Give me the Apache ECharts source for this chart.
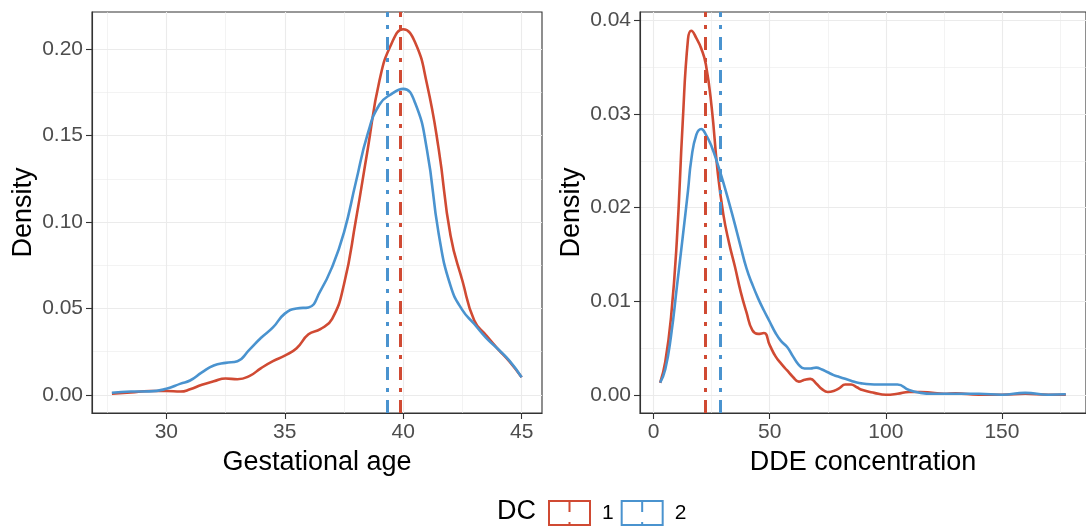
<!DOCTYPE html>
<html><head><meta charset="utf-8">
<script src="https://cdn.jsdelivr.net/npm/echarts@6/dist/echarts.min.js"></script>
<style>html,body{margin:0;padding:0;background:#fff}#c{width:1086px;height:530px}</style>
</head><body><div id="c"></div>
<script>
// ---------- data ----------
const groupNames = ['1', '2'];
const groupColors = ['#D04A33', '#4A93CF'];

const gaX = [27.7, 28.5, 29.3, 30, 30.6, 31, 31.5, 32, 32.5, 33, 33.5, 34, 34.5, 35, 35.5, 36, 36.5, 37, 37.5, 38, 38.5, 39, 39.5, 40, 40.5, 41, 41.5, 42, 42.5, 43, 43.5, 44, 44.5, 45];
const gaDens1 = [0.0006, 0.0014, 0.0022, 0.0022, 0.0019, 0.0032, 0.0058, 0.0078, 0.0095, 0.009, 0.0108, 0.0155, 0.0195, 0.0227, 0.027, 0.035, 0.038, 0.044, 0.064, 0.101, 0.142, 0.182, 0.203, 0.2115, 0.204, 0.180, 0.142, 0.092, 0.066, 0.043, 0.0345, 0.0265, 0.019, 0.0102];
const gaDens2 = [0.0012, 0.0019, 0.002, 0.0035, 0.0065, 0.0083, 0.013, 0.017, 0.0185, 0.0195, 0.026, 0.033, 0.039, 0.047, 0.050, 0.0506, 0.060, 0.074, 0.094, 0.123, 0.151, 0.168, 0.174, 0.177, 0.169, 0.142, 0.093, 0.063, 0.049, 0.041, 0.033, 0.0265, 0.0195, 0.0102];

const ddeX = [2.8, 5, 7.5, 10, 12.5, 14.8, 16.2, 18.4, 20.5, 22.5, 25, 27.5, 30, 32.5, 35, 37.5, 40, 42.5, 45, 47.5, 50, 52.5, 55, 57.5, 60, 62.5, 65, 67.5, 70, 72.5, 75, 77.5, 80, 82.5, 85, 87.5, 90, 95, 100, 105, 110, 115, 120, 125, 130, 140, 150, 160, 170, 177.5];
const ddeDens1 = [0.00127, 0.0035, 0.0083, 0.0165, 0.029, 0.0380, 0.0389, 0.0381, 0.0370, 0.0353, 0.0307, 0.024, 0.0193, 0.0162, 0.0137, 0.011, 0.0088, 0.0069, 0.0065, 0.0066, 0.0053, 0.0041, 0.0033, 0.0026, 0.0019, 0.0014, 0.0016, 0.0017, 0.0012, 0.0006, 0.0003, 0.0004, 0.0007, 0.0011, 0.0011, 0.0008, 0.0005, 0.0002, 0.0, 0.0001, 0.0003, 0.0003, 0.0002, 0.0001, 0.00015, 0.0, 0.0, 0.0001, 0.0, 0.0];
const ddeDens2 = [0.0013, 0.0027, 0.0063, 0.0115, 0.0168, 0.0218, 0.0251, 0.0278, 0.0284, 0.0278, 0.0265, 0.0247, 0.0227, 0.0205, 0.0182, 0.0158, 0.0135, 0.0118, 0.0103, 0.009, 0.0078, 0.0066, 0.0057, 0.0051, 0.0041, 0.0032, 0.0028, 0.0028, 0.0029, 0.0027, 0.0024, 0.0021, 0.0019, 0.0017, 0.0015, 0.0013, 0.0012, 0.0011, 0.0011, 0.0011, 0.0005, 0.0002, 0.0001, 0.0001, 0.0001, 0.0001, 0.0, 0.0002, 0.0, 0.00005];

const gaMeans = [39.89, 39.31];
const ddeMeans = [22.4, 28.5];

const gaTicksX = [30, 35, 40, 45];
const gaMinorX = [27.5, 32.5, 37.5, 42.5];
const gaTicksY = [0, 0.05, 0.10, 0.15, 0.20];
const gaMinorY = [0.025, 0.075, 0.125, 0.175];
const ddeTicksX = [0, 50, 100, 150];
const ddeMinorX = [25, 75, 125, 175];
const ddeTicksY = [0, 0.01, 0.02, 0.03, 0.04];
const ddeMinorY = [0.005, 0.015, 0.025, 0.035];

// ---------- styling / layout ----------
const FONT = 'Liberation Sans, Arial, sans-serif';
const ranges = [
  {x: [26.86, 45.86], y: [-0.0105, 0.2215]},
  {x: [-5.87, 186.2], y: [-0.00195, 0.0409]}
];
const grids = [
  {left: 92, top: 12, width: 450, height: 401},
  {left: 640, top: 12, width: 448.7, height: 401}
];

function majorAxis(dim, gi, range, ticks, name, fmt) {
  const isX = dim === 'x';
  return {
    type: 'value', gridIndex: gi, min: range[0], max: range[1],
    position: isX ? 'bottom' : 'left',
    name: name, nameLocation: 'middle', nameRotate: isX ? 0 : 90,
    nameGap: isX ? 36 : 55,
    nameTextStyle: {fontSize: 27, color: '#000', fontFamily: FONT},
    axisLine: {show: true, onZero: false, lineStyle: {color: '#333333', width: 1.1}},
    axisTick: {show: true, length: 6, customValues: ticks, lineStyle: {color: '#333333', width: 1.1}},
    axisLabel: {show: true, customValues: ticks, margin: 9, fontSize: 21, color: '#4D4D4D', fontFamily: FONT,
                formatter: fmt},
    splitLine: {show: true, lineStyle: {color: '#EBEBEB', width: 1.1}},
    minorTick: {show: false}, minorSplitLine: {show: false}
  };
}
function minorAxis(dim, gi, range, ticks) {
  const isX = dim === 'x';
  return {
    type: 'value', gridIndex: gi, min: range[0], max: range[1],
    position: isX ? 'bottom' : 'left',
    axisLine: {show: false}, axisTick: {show: false, customValues: ticks},
    axisLabel: {show: false, customValues: ticks},
    splitLine: {show: true, lineStyle: {color: '#EBEBEB', width: 0.6}}
  };
}

const xAxes = [
  minorAxis('x', 0, ranges[0].x, gaMinorX),
  majorAxis('x', 0, ranges[0].x, gaTicksX, 'Gestational age', v => String(v)),
  minorAxis('x', 1, ranges[1].x, ddeMinorX),
  majorAxis('x', 1, ranges[1].x, ddeTicksX, 'DDE concentration', v => String(v))
];
const yAxes = [
  minorAxis('y', 0, ranges[0].y, gaMinorY),
  majorAxis('y', 0, ranges[0].y, gaTicksY, 'Density', v => v.toFixed(2)),
  minorAxis('y', 1, ranges[1].y, ddeMinorY),
  majorAxis('y', 1, ranges[1].y, ddeTicksY, 'Density', v => v.toFixed(2))
];

function densitySeries(gi, xs, ys, k, mean) {
  return {
    type: 'line', name: groupNames[k], xAxisIndex: gi * 2 + 1, yAxisIndex: gi * 2 + 1,
    data: xs.map((x, i) => [x, ys[i]]),
    showSymbol: false, symbol: 'none', smooth: 0.5, silent: true,
    lineStyle: {color: groupColors[k], width: 2.6},
    itemStyle: {color: groupColors[k]},
    markLine: {
      silent: true, symbol: ['none', 'none'], label: {show: false}, animation: false,
      lineStyle: {color: groupColors[k], width: 3, type: [13, 8, 4, 8], cap: 'butt'},
      data: [{xAxis: mean}]
    }
  };
}

const iconPath = 'path://M0,0L41,0L41,24L0,24Z M20.5,0L20.5,11 M20.5,21L20.5,24';

const option = {
  animation: false,
  backgroundColor: '#FFFFFF',
  textStyle: {fontFamily: FONT},
  title: {text: 'DC', left: 497, top: 498, padding: 0,
          textStyle: {fontSize: 27, fontWeight: 'normal', color: '#000', fontFamily: FONT}},
  legend: {
    left: 548, top: 500, padding: 0, orient: 'horizontal',
    itemWidth: 41, itemHeight: 24, itemGap: 7, selectedMode: false,
    textStyle: {fontSize: 21, color: '#000', fontFamily: FONT, padding: [0, 0, 0, 7]},
    data: groupNames.map((n, k) => ({
      name: n, icon: iconPath,
      itemStyle: {color: '#FFFFFF', borderColor: groupColors[k], borderWidth: 2}
    }))
  },
  grid: grids.map(g => Object.assign({show: true, borderColor: '#333333', borderWidth: 1.1, backgroundColor: 'transparent'}, g)),
  xAxis: xAxes,
  yAxis: yAxes,
  series: [
    densitySeries(0, gaX, gaDens1, 0, gaMeans[0]),
    densitySeries(0, gaX, gaDens2, 1, gaMeans[1]),
    densitySeries(1, ddeX, ddeDens1, 0, ddeMeans[0]),
    densitySeries(1, ddeX, ddeDens2, 1, ddeMeans[1])
  ]
};
const chart = echarts.init(document.getElementById('c'), null, {renderer: 'canvas'});
chart.setOption(option);
</script>
</body></html>
